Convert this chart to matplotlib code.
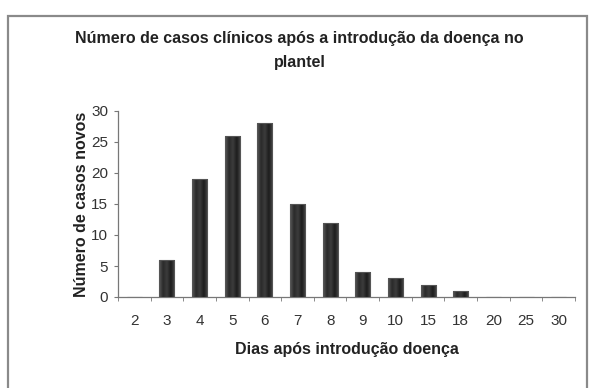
import numpy as np
import matplotlib
matplotlib.use("Agg")
import matplotlib.pyplot as plt
from matplotlib.patches import Rectangle
from matplotlib.colors import LinearSegmentedColormap

plt.rcParams['font.family'] = ['Liberation Sans', 'DejaVu Sans']

# data
dias = ["2", "3", "4", "5", "6", "7", "8", "9", "10", "15", "18", "20", "25", "30"]
casos = [0, 6, 19, 26, 28, 15, 12, 4, 3, 2, 1, 0, 0, 0]

fig = plt.figure(figsize=(5.99, 3.88), dpi=100)

# outer chart frame (grey border, bottom runs off the image)
W, H = 599, 388
fig.patches.append(Rectangle((7.5 / W, -0.02), (587 - 7.5) / W, 1.02 - 15.5 / H,
                             transform=fig.transFigure, fill=False,
                             edgecolor='#8a8a8a', linewidth=1.6))

ax = fig.add_axes([118 / W, 1 - 297 / H, (575 - 118) / W, (297 - 111) / H])

x = np.arange(len(dias))
bars = ax.bar(x, casos, width=0.46, color='none', edgecolor='#555555', linewidth=0.8, zorder=4)

# shaded (cylinder-like) fill for each bar
shade = LinearSegmentedColormap.from_list('shade', ['#5a5a5a', '#2a2a2a', '#3c3c3c', '#1c1c1c', '#4a4a4a'])
grad = np.linspace(0, 1, 64).reshape(1, -1)
for b in bars:
    if b.get_height() <= 0:
        continue
    im = ax.imshow(grad, cmap=shade, aspect='auto', zorder=3,
                   extent=[b.get_x(), b.get_x() + b.get_width(), 0, b.get_height()])
    im.set_clip_path(b)

ax.set_xlim(-0.5, len(dias) - 0.5)
ax.set_ylim(0, 30)
ax.set_yticks(range(0, 31, 5))

# category labels centred, tick marks between categories
ax.set_xticks(x)
ax.set_xticklabels(dias, fontsize=11, color='#333333')
ax.set_xticks(np.arange(-0.5, len(dias)), minor=True)
ax.tick_params(axis='x', which='major', length=0, pad=12)
ax.tick_params(axis='x', which='minor', length=3, color='#777777', direction='out')
ax.tick_params(axis='y', length=3, color='#777777', labelsize=11, labelcolor='#333333', pad=4)

for s in ['top', 'right']:
    ax.spines[s].set_visible(False)
for s in ['left', 'bottom']:
    ax.spines[s].set_color('#777777')
    ax.spines[s].set_linewidth(0.9)

ax.set_ylabel("Número de casos novos", fontsize=11.5, fontweight='bold', color='#222222', labelpad=2)
ax.set_xlabel("Dias após introdução doença", fontsize=11.5, fontweight='bold', color='#222222', labelpad=10)

fig.text(0.5, 1 - 50 / H, "Número de casos clínicos após a introdução da doença no\nplantel",
         ha='center', va='center', fontsize=11.5, fontweight='bold', color='#222222',
         linespacing=1.75)

fig.savefig("out.png", dpi=100)
